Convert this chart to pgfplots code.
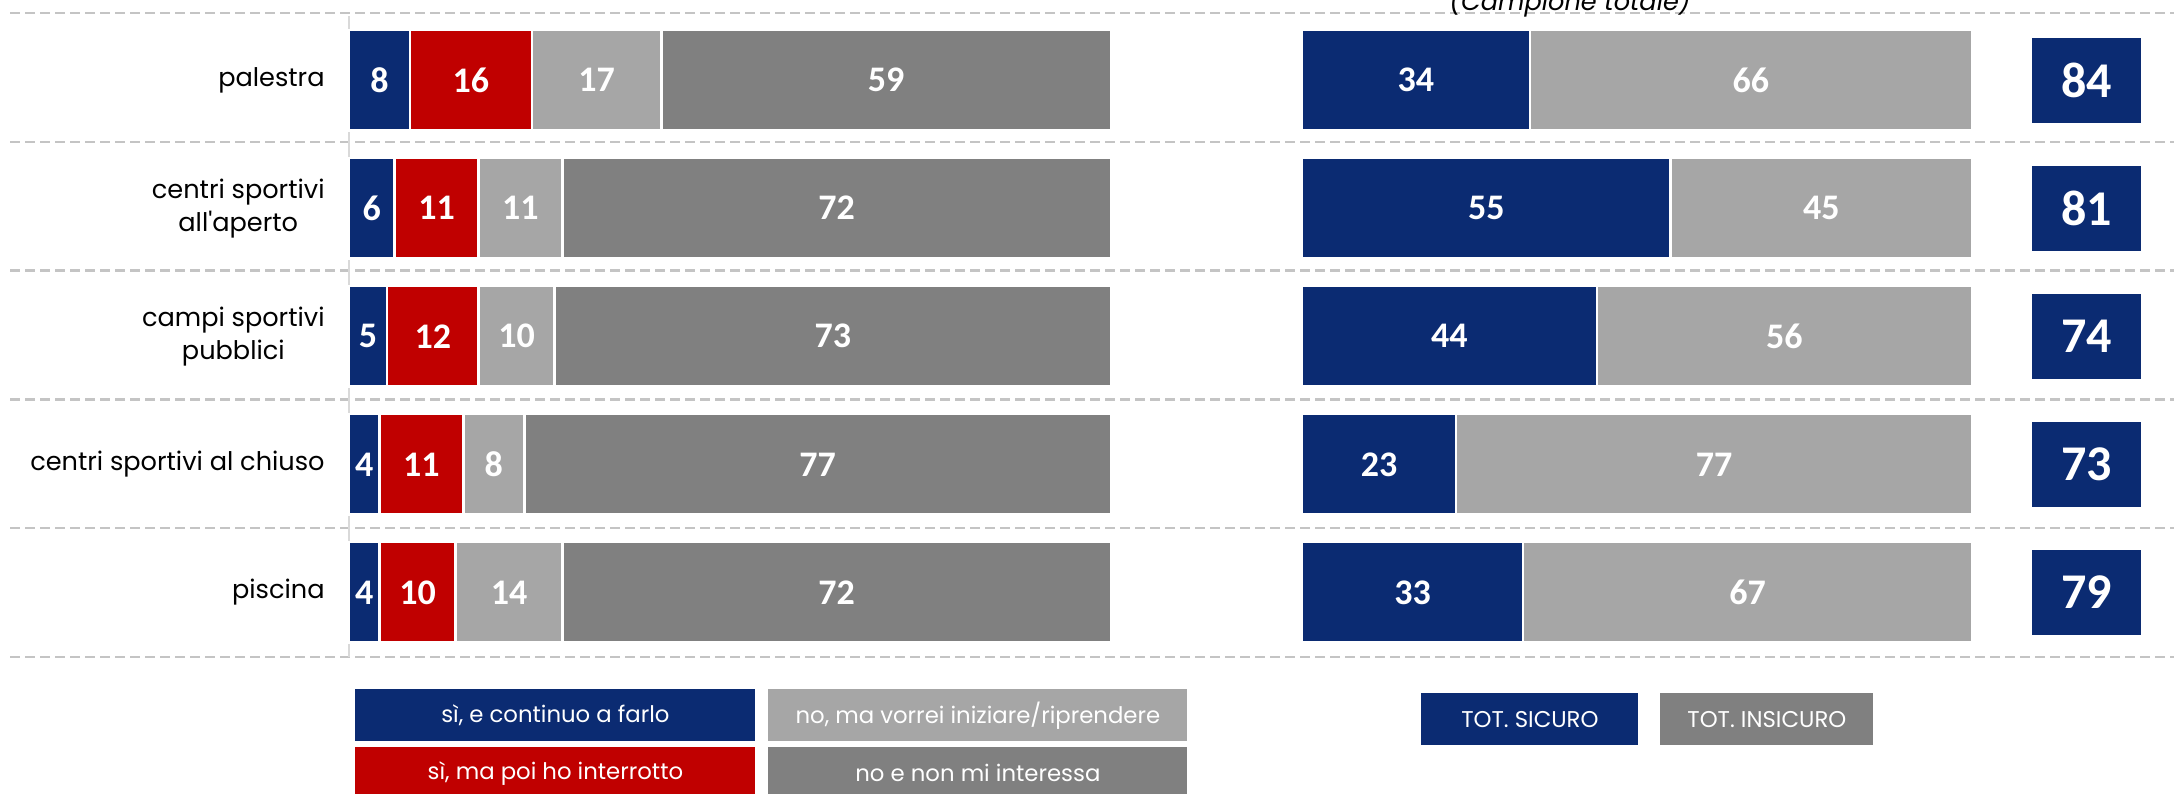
\documentclass[border=0pt]{standalone}
\usepackage{pgfplots}
\pgfplotsset{compat=1.18}
\usepackage{pgfplotstable}
\usepackage{fontspec}
\setmainfont{Poppins}
\newfontfamily\numfont{Carlito}
\definecolor{navy}{RGB}{11,43,114}
\definecolor{myred}{RGB}{192,0,0}
\definecolor{lgray}{RGB}{166,166,166}
\definecolor{dgray}{RGB}{128,128,128}
\definecolor{dashc}{RGB}{196,196,196}
\definecolor{axc}{RGB}{217,217,217}

\pgfplotstableread{
cat a b c d
0 8 16 17 59
1 6 11 11 72
2 5 12 10 73
3 4 11 8 77
4 4 10 14 72
}\lefttab
\pgfplotstableread{
cat s i
0 34 66
1 55 45
2 44 56
3 23 77
4 33 67
}\righttab
\pgfplotstableread{
cat pos tot
0 0 84
1 0 81
2 0 74
3 0 73
4 0 79
}\boxtab

\pgfplotsset{
  common/.style={
    scale only axis, height=320.25pt,
    ymin=-0.5, ymax=4.5, y dir=reverse,
    clip=false,
    /pgf/number format/assume math mode=true,
  },
  stk/.style={
    xbar stacked, bar width=0.785,
    xmin=0, xmax=100,
    point meta=explicit,
    nodes near coords,
    nodes near coords align={center},
    every node near coord/.append style={font=\numfont\bfseries\fontsize{18}{18}\selectfont, text=white},
  },
  seg/.style={fill=#1, draw=white, line width=1.25pt},
}

\begin{document}
\begin{tikzpicture}
\path[use as bounding box] (0,0) rectangle (1087pt,396.5pt);
\foreach \yy in {390.0,325.6,261.2,196.8,132.4,68.0}
  \draw[dashc, line width=1.2pt, dash pattern=on 5pt off 2.5pt] (5pt,\yy pt) -- (1087pt,\yy pt);

\begin{axis}[common, stk, at={(174.5pt,68.25pt)}, anchor=south west, width=381pt,
  axis x line=none, axis y line*=left,
  y axis line style={axc, line width=1pt, -},
  ytick={0,...,4}, major tick length=0pt,
  yticklabels={palestra, {centri sportivi\\all\textquotesingle aperto}, {campi sportivi\\pubblici}, centri sportivi al chiuso, piscina},
  yticklabel style={font=\fontsize{12.8}{16.5}\selectfont, align=center, inner xsep=0pt, xshift=-12pt},
  ]
\addplot[seg=navy] table[x=a, y=cat, meta=a] {\lefttab};
\addplot[seg=myred] table[x=b, y=cat, meta=b] {\lefttab};
\addplot[seg=lgray] table[x=c, y=cat, meta=c] {\lefttab};
\addplot[seg=dgray] table[x=d, y=cat, meta=d] {\lefttab};
\end{axis}

\begin{axis}[common, stk, at={(651pt,68.25pt)}, anchor=south west, width=335pt, hide axis]
\addplot[seg=navy] table[x=s, y=cat, meta=s] {\righttab};
\addplot[seg=lgray] table[x=i, y=cat, meta=i] {\righttab};
\end{axis}

\begin{axis}[common, at={(1016pt,68.25pt)}, anchor=south west, width=54.5pt, hide axis,
  xmin=-1, xmax=1]
\addplot[draw=none, mark=none, point meta=explicit, nodes near coords, nodes near coords align={center},
  every node near coord/.append style={fill=navy, text=white, minimum width=54.5pt, minimum height=42.5pt, inner sep=0pt,
  font=\numfont\bfseries\fontsize{25}{25}\selectfont}]
  table[x=pos, y=cat, meta=tot] {\boxtab};
\end{axis}

\node[anchor=base, font=\itshape\fontsize{12.8}{15}\selectfont] at (785pt,391.25pt) {(Campione totale)};

\begin{scope}[every node/.style={text=white, inner sep=0pt, anchor=north west, font=\fontsize{11.4}{13}\selectfont}]
\node[fill=navy, minimum width=200pt, minimum height=26pt] at (177.5pt,52pt) {sì, e continuo a farlo};
\node[fill=lgray, minimum width=209.5pt, minimum height=26pt] at (384pt,52pt) {no, ma vorrei iniziare/riprendere};
\node[fill=myred, minimum width=200pt, minimum height=26pt] at (177.5pt,23pt) {sì, ma poi ho interrotto};
\node[fill=dgray, minimum width=209.5pt, minimum height=26pt] at (384pt,23pt) {no e non mi interessa};
\node[fill=navy, minimum width=108.5pt, minimum height=26pt] at (710.5pt,50pt) {TOT. SICURO};
\node[fill=dgray, minimum width=106.5pt, minimum height=26pt] at (830pt,50pt) {TOT. INSICURO};
\end{scope}
\end{tikzpicture}
\end{document}
